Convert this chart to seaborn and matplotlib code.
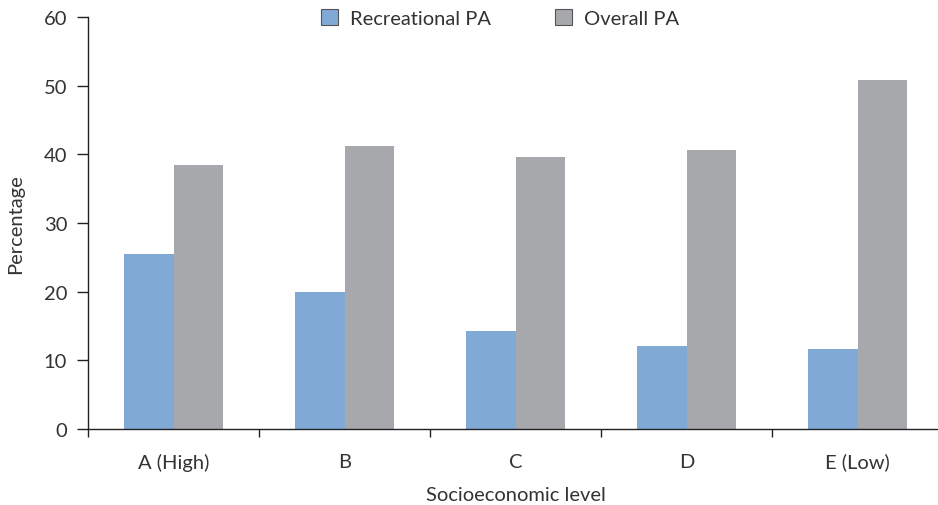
import numpy as np
import pandas as pd
import matplotlib
matplotlib.use("Agg")
import matplotlib.pyplot as plt
from matplotlib.ticker import FixedLocator
import seaborn as sns

categories = ["A (High)", "B", "C", "D", "E (Low)"]
recreational = [25.5, 20.0, 14.2, 12.1, 11.6]
overall = [38.4, 41.2, 39.6, 40.6, 50.8]
series_names = ["Recreational PA", "Overall PA"]
y_ticks = [0, 10, 20, 30, 40, 50, 60]

df = pd.DataFrame({
    "level": categories * 2,
    "value": recreational + overall,
    "series": [series_names[0]] * len(categories) + [series_names[1]] * len(categories),
})

sns.set_theme(style="white")
plt.rcParams["font.family"] = ["Lato", "DejaVu Sans"]

FS = 14.5
fig = plt.figure(figsize=(9.38, 5.06), dpi=100)
ax = fig.add_axes([88 / 938, 76 / 506, (943 - 88) / 938, 412 / 506])

palette = {series_names[0]: "#80A9D6", series_names[1]: "#A7A8AC"}
sns.barplot(data=df, x="level", y="value", hue="series", order=categories,
            hue_order=series_names, palette=palette, width=0.575,
            saturation=1, linewidth=0, ax=ax)

ax.set_xlim(-0.5, len(categories) - 0.5)
ax.set_ylim(0, 60)
ax.set_yticks(y_ticks)
ax.tick_params(axis="y", which="major", direction="out", length=8, width=1,
               color="#222222", labelsize=FS, labelcolor="#333333", pad=7, left=True)
ax.tick_params(axis="x", which="major", length=0, labelsize=FS,
               labelcolor="#333333", pad=17)
ax.xaxis.set_minor_locator(FixedLocator(np.arange(-0.5, len(categories) + 0.5, 1.0)))
ax.tick_params(axis="x", which="minor", direction="out", length=6, width=1,
               color="#222222", bottom=True)

for side in ["top", "right"]:
    ax.spines[side].set_visible(False)
for side in ["left", "bottom"]:
    ax.spines[side].set_color("#222222")
    ax.spines[side].set_linewidth(1)

ax.set_xlabel("Socioeconomic level", fontsize=FS, color="#333333", labelpad=11)
ax.set_ylabel("Percentage", fontsize=FS, color="#333333", labelpad=14)

handles, labels = ax.get_legend_handles_labels()
for h in handles:
    h.set_edgecolor("#555555")
    h.set_linewidth(0.8)
ax.legend(handles, labels, loc="upper center", bbox_to_anchor=(500 / 938, 1.0),
          bbox_transform=fig.transFigure, ncol=2, frameon=False, fontsize=FS,
          handlelength=0.85, handleheight=0.85, handletextpad=0.6, columnspacing=3.2,
          borderaxespad=0.1, labelcolor="#333333")

fig.savefig("out.png", dpi=100)
